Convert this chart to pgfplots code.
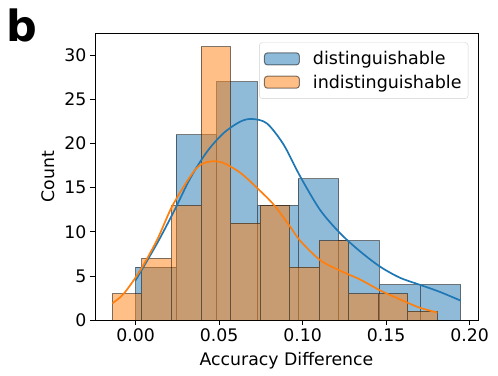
\documentclass[border=0pt]{standalone}
\usepackage{fontspec}
\setmainfont{DejaVu Sans}
\usepackage{pgfplots}
\pgfplotsset{compat=1.18}
\definecolor{tabblue}{HTML}{1F77B4}
\definecolor{taborange}{HTML}{FF7F0E}

% histogram counts (bin left edges, last edge repeated)
\pgfplotstableread{
x y
0.000000 6
0.024325 21
0.048650 27
0.072975 13
0.097300 16
0.121625 9
0.145950 4
0.170275 4
0.194600 4
}\distbins
\pgfplotstableread{
x y
-0.013900 3
0.003791 7
0.021482 13
0.039173 31
0.056864 11
0.074555 13
0.092246 6
0.109937 9
0.127628 3
0.145319 3
0.163010 1
0.180700 1
}\indistbins

\tikzset{histpatch/.style={line width=1pt, draw=black, draw opacity=0.5, fill opacity=0.5}}
\pgfplotsset{histlegend/.style={legend image code/.code={%
  \path[draw=none, fill=none] (0pt,0pt) -- (46.5pt,0pt);
  \draw[##1] (0pt,-6pt) rectangle (35pt,6pt);}}}

\begin{document}
\begin{tikzpicture}
\useasboundingbox (-95pt,-55pt) rectangle (403pt,320pt);
\begin{axis}[
  scale only axis,
  width=383pt, height=287pt,
  xmin=-0.0243, xmax=0.2050,
  ymin=0, ymax=32.55,
  axis line style={black, line width=0.8pt},
  tick pos=left,
  tick align=outside,
  major tick length=5pt,
  tick style={black, line width=0.8pt},
  xtick={0,0.05,0.1,0.15,0.2},
  ytick={0,5,10,15,20,25,30},
  xticklabel style={/pgf/number format/.cd, fixed, fixed zerofill, precision=2},
  /pgf/number format/assume math mode=true,
  tick label style={font=\fontsize{17.3}{20}\selectfont},
  label style={font=\fontsize{17.3}{20}\selectfont},
  xlabel={Accuracy Difference},
  ylabel={Count},
  xlabel style={at={([yshift=-45pt]axis description cs:0.5,0)}, anchor=base},
  ylabel style={at={([xshift=-47pt]axis description cs:0,0.5)}, anchor=center},
  legend style={at={(1,1)}, anchor=north east, xshift=-9.7pt, yshift=-9.3pt,
    draw=black!18, rounded corners=3pt, fill=white,
    font=\fontsize{17.5}{20}\selectfont,
    inner xsep=4.6pt, inner ysep=7pt, row sep=4.5pt,
    nodes={inner sep=2pt}},
  legend cell align=left,
]
\addplot[ybar interval, histpatch, fill=tabblue, histlegend]
  table[x=x, y=y] {\distbins};
\addlegendentry{distinguishable}
\addplot[ybar interval, histpatch, fill=taborange, histlegend]
  table[x=x, y=y] {\indistbins};
\addlegendentry{indistinguishable}

% kde curves
\addplot[tabblue, line width=1.7pt, smooth, forget plot] coordinates {
(0.0000,4.5) (0.0129,8.7) (0.0229,12.3) (0.0328,16.1) (0.0428,19.1)
(0.0527,21.2) (0.0627,22.5) (0.0697,22.8) (0.0786,22.3) (0.0886,19.9)
(0.0985,16.3) (0.1104,12.5) (0.1224,9.85) (0.1343,7.8) (0.1463,6.06)
(0.1582,4.8) (0.1701,4.0) (0.1820,3.2) (0.1946,2.2)
};
\addplot[taborange, line width=1.7pt, smooth, forget plot] coordinates {
(-0.0139,1.9) (-0.0070,3.0) (0.0030,5.7) (0.0129,9.1) (0.0219,12.9)
(0.0328,16.3) (0.0388,17.6) (0.0458,18.0) (0.0527,17.8) (0.0627,16.7)
(0.0726,15.0) (0.0826,13.1) (0.0925,10.6) (0.0985,9.0) (0.1104,6.8)
(0.1224,5.6) (0.1343,4.6) (0.1470,3.3) (0.1600,2.2) (0.1700,1.4) (0.1807,0.85)
};
\end{axis}
\node[anchor=base west, inner sep=0pt, font=\bfseries\fontsize{43}{43}\selectfont] at (-89pt,278.3pt) {b};
\end{tikzpicture}
\end{document}
